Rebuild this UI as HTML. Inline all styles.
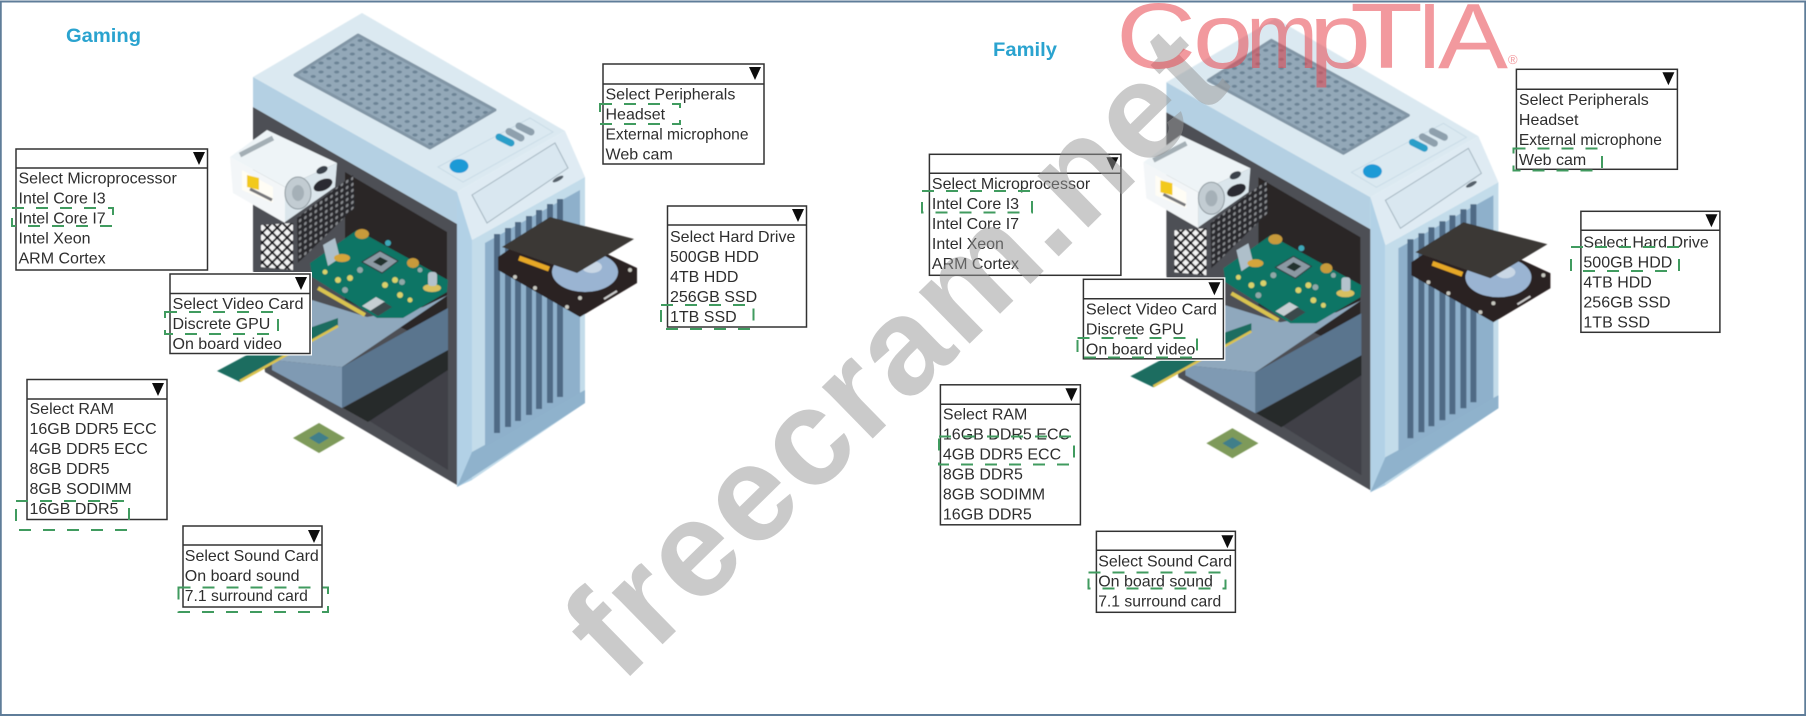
<!DOCTYPE html>
<html><head><meta charset="utf-8"><style>
html,body{margin:0;padding:0;background:#fff;width:1806px;height:717px;overflow:hidden}
svg{display:block}
.t{font:16px "Liberation Sans",sans-serif;fill:#2e2e2e}
.b{fill:#fff;stroke:#333;stroke-width:1.5}
.l{stroke:#333;stroke-width:1.5}
.d{fill:none;stroke:#3f9b5f;stroke-width:2;stroke-dasharray:12 12}
.h{font:bold 19px "Liberation Sans",sans-serif;fill:#2ba3cf}
.c{font-family:"Liberation Sans",sans-serif;font-size:93px;fill:#e8474f}
</style></head><body>
<svg width="1806" height="717" viewBox="0 0 1806 717" xmlns="http://www.w3.org/2000/svg">
<defs>
<filter id="bl" x="-5%" y="-5%" width="110%" height="110%"><feGaussianBlur stdDeviation="0.6"/></filter>
<filter id="tb" x="-5%" y="-5%" width="110%" height="110%"><feGaussianBlur stdDeviation="0.3"/></filter>
<pattern id="dots" width="9" height="9" patternUnits="userSpaceOnUse" patternTransform="matrix(.87 .5 -.87 .5 0 0)"><rect width="9" height="9" fill="#93a8b8"/><circle cx="4.5" cy="4.5" r="2.1" fill="#6c8395"/></pattern>
<pattern id="perf" width="6" height="6" patternUnits="userSpaceOnUse" patternTransform="matrix(.87 -.5 0 1 0 0)"><rect width="6" height="6" fill="#2b2b2e"/><circle cx="3" cy="3" r="1.6" fill="#85878b"/></pattern>
<pattern id="chk" width="7" height="7" patternUnits="userSpaceOnUse" patternTransform="rotate(45)"><rect width="7" height="7" fill="#17171a"/><rect width="5" height="5" x="1" y="1" fill="#f3f3f3"/></pattern>
<g id="pc" filter="url(#bl)">
<polygon points="253,77 362,13 565,131 457,192" fill="#dbe9f1"/>
<polygon points="295,75 358,35 495,110 430,148" fill="url(#dots)" stroke="#8296a6" stroke-width="3" stroke-linejoin="round"/>
<polygon points="438,167 530,118 553,132 463,182" fill="none" stroke="#c9dbe6"/>
<polygon points="253,77 457,192 457,224 253,107" fill="#b4d0e3"/>
<polygon points="253,107 457,224 457,485 265,372 253,270" fill="#4d4f55"/>
<polygon points="345,172 447,232 447,350 345,300" fill="#2a2728"/>
<polygon points="297,218 353,175 355,207 298,263" fill="url(#perf)"/>
<polygon points="261,225 293,223 293,270 261,267" fill="url(#chk)"/>
<polygon points="368,420 448,368 448,470" fill="#3f4147"/>
<polygon points="343,408 448,350 448,370 368,422" fill="#28292c"/>
<polygon points="312,300 367,317 423,307 448,295 342,367 272,360" fill="#8fa8bd"/>
<polygon points="272,360 342,367 342,408 272,370" fill="#7f9ab3"/>
<polygon points="342,367 448,308 448,350 342,408" fill="#5a748e"/>
<polygon points="310,263 357,230 448,280 447,292 403,318 377,318 312,277" fill="#0f7465"/>
<line x1="318" y1="288" x2="365" y2="315" stroke="#d9c350" stroke-width="4"/>
<polygon points="380,251 398,261 382,273 362,262" fill="#8b99a3" stroke="#2b3a3d"/>
<polygon points="380,257 388,261 381,266 373,262" fill="#24302f"/>
<polygon points="376,297 385,302 371,311 362,306" fill="#c6ced2"/>
<polygon points="384,302 392,307 378,316 370,311" fill="#3a4a4c"/>
<polygon points="323,245 335,238 340,258 328,266" fill="#aebfca"/>
<ellipse cx="342" cy="258" rx="8" ry="4" fill="#d5a53a"/>
<ellipse cx="362" cy="234" rx="7" ry="5" fill="#c79a3a"/><ellipse cx="413" cy="263" rx="6" ry="5" fill="#c79a3a"/>
<ellipse cx="432" cy="288" rx="9" ry="4" fill="#d8c060"/><rect x="428" y="272" width="9" height="14" rx="3" fill="#b4c2cc"/>
<g fill="#d8d26a"><circle cx="385" cy="285" r="3"/><circle cx="350" cy="278" r="3"/><circle cx="400" cy="295" r="3"/><circle cx="338" cy="280" r="3"/><circle cx="410" cy="300" r="2.5"/><circle cx="325" cy="272" r="2.5"/><circle cx="395" cy="280" r="3"/></g>
<g fill="#8fa8a8"><circle cx="420" cy="270" r="2.5"/><circle cx="360" cy="270" r="3"/><circle cx="345" cy="290" r="3"/><circle cx="402" cy="282" r="3"/></g>
<circle cx="388" cy="243" r="3" fill="#3da8b8"/>
<polygon points="217,371 275,340 338,318 338,326 240,382" fill="#1b6d60"/>
<line x1="240" y1="381" x2="338" y2="326" stroke="#d9c350" stroke-width="2.5"/>
<polygon points="230,157 267,130 337,163 285,187" fill="#eef4f7"/>
<polygon points="230,157 285,187 285,223 233,193" fill="#f3f6f8"/>
<polygon points="285,187 337,163 335,187 285,222" fill="#dbe6ec"/>
<line x1="240" y1="155" x2="273" y2="138" stroke="#a4afb5" stroke-width="5"/>
<polygon points="242,170 273,187 273,203 242,190" fill="#fffdf5"/>
<polygon points="247,175 259,178 259,190 247,187" fill="#f2c91e"/>
<line x1="250" y1="189" x2="272" y2="200" stroke="#77777a" stroke-width="3"/>
<ellipse cx="298" cy="193" rx="13" ry="16" fill="#c2ccd2" stroke="#8d989e"/>
<ellipse cx="298" cy="193" rx="6" ry="8" fill="#a5b0b7"/>
<ellipse cx="323" cy="185" rx="10" ry="5.5" fill="#2a2c30" transform="rotate(-25 323 185)"/>
<ellipse cx="322" cy="170" rx="6" ry="3.5" fill="#3b434c" transform="rotate(-25 322 170)"/>
<polygon points="457,192 565,131 585,177 472,240" fill="#dfebf3"/>
<polygon points="472,195 555,143 568,168 487,223" fill="#d9e7f0" stroke="#a3b4bf"/>
<ellipse cx="558" cy="179" rx="6" ry="2" fill="#55606a" transform="rotate(-28 558 179)"/>
<polygon points="457,192 472,240 472,480 457,487" fill="#b2d1e6"/>
<polygon points="472,240 585,177 585,403 472,480" fill="#c3dcea"/>
<polygon points="472,452 585,390 585,403 457,487" fill="#8fb2cc"/>
<polygon points="485,243 580,190 580,393 485,447" fill="#8eb0cb"/>
<g stroke="#4f6a85" stroke-width="6">
<line x1="497" y1="234" x2="497" y2="433"/><line x1="508" y1="228" x2="508" y2="427"/><line x1="518" y1="222" x2="518" y2="421"/><line x1="529" y1="216" x2="529" y2="415"/><line x1="539" y1="210" x2="539" y2="409"/><line x1="550" y1="204" x2="550" y2="403"/><line x1="560" y1="199" x2="560" y2="397"/>
</g>
<ellipse cx="459" cy="166" rx="9.5" ry="7" fill="#1f9ad6"/>
<line x1="499" y1="137" x2="511" y2="143" stroke="#2a9fc9" stroke-width="7" stroke-linecap="round"/>
<line x1="509" y1="131.5" x2="521" y2="138" stroke="#8ea0ad" stroke-width="7" stroke-linecap="round"/>
<line x1="519" y1="126" x2="531" y2="132" stroke="#8ea0ad" stroke-width="7" stroke-linecap="round"/>
<polygon points="498,257 545,225 637,268 637,283 580,317 498,270" fill="#2a2220"/>
<ellipse cx="585" cy="272" rx="33" ry="20" fill="#9ab4d2"/>
<ellipse cx="592" cy="267" rx="10" ry="6" fill="#c9d7e5"/>
<polygon points="502,247 550,217 634,239 577,273" fill="#3b3735"/>
<line x1="519" y1="258" x2="549" y2="269" stroke="#e6a828" stroke-width="5"/>
<g fill="#c8c8c0"><circle cx="515" cy="277" r="2"/><circle cx="535" cy="288" r="2"/><circle cx="567" cy="307" r="2"/><circle cx="580" cy="298" r="2"/><circle cx="630" cy="270" r="2"/></g>
<line x1="604" y1="299" x2="617" y2="291" stroke="#ccc" stroke-width="2"/>
<polygon points="293,438 319,423 345,438 319,453" fill="#7e9a5a"/>
<polygon points="309,438 319,432 329,438 319,444" fill="#3f7f8a"/>
</g>
</defs>
<rect x="0" y="0" width="1806" height="717" fill="#fff"/>
<use href="#pc"/>
<use href="#pc" transform="translate(913.4,5.3)"/>

<g filter="url(#tb)">
<text class="h" x="66" y="42" textLength="75" lengthAdjust="spacingAndGlyphs">Gaming</text>
<text class="h" x="993" y="56" textLength="64" lengthAdjust="spacingAndGlyphs">Family</text>

<!-- Gaming boxes -->
<rect class="b" x="16" y="149" width="191.5" height="121"/><line class="l" x1="16" y1="168" x2="207.5" y2="168"/><polygon points="193,152 205,152 199,165" fill="#111"/>
<text class="t" x="18.5" y="183.5">Select Microprocessor</text><text class="t" x="18.5" y="203.5">Intel Core I3</text><text class="t" x="18.5" y="223.5">Intel Core I7</text><text class="t" x="18.5" y="243.5">Intel Xeon</text><text class="t" x="18.5" y="263.5">ARM Cortex</text>

<rect class="b" x="603" y="64" width="161" height="100"/><line class="l" x1="603" y1="84" x2="764" y2="84"/><polygon points="749,67 761,67 755,80" fill="#111"/>
<text class="t" x="605.5" y="99.5">Select Peripherals</text><text class="t" x="605.5" y="119.5">Headset</text><text class="t" x="605.5" y="139.5" textLength="143" lengthAdjust="spacingAndGlyphs">External microphone</text><text class="t" x="605.5" y="159.5">Web cam</text>

<rect class="b" x="667.5" y="206" width="139" height="121"/><line class="l" x1="667.5" y1="225" x2="806.5" y2="225"/><polygon points="792,209 804,209 798,222" fill="#111"/>
<text class="t" x="670" y="242">Select Hard Drive</text><text class="t" x="670" y="262">500GB HDD</text><text class="t" x="670" y="282">4TB HDD</text><text class="t" x="670" y="302">256GB SSD</text><text class="t" x="670" y="322">1TB SSD</text>

<rect x="168" y="272" width="144" height="83.5" fill="#fff"/>
<rect class="b" x="170" y="274" width="140" height="79.5"/><line class="l" x1="170" y1="293.5" x2="310" y2="293.5"/><polygon points="295,277 307,277 301,290" fill="#111"/>
<text class="t" x="172.5" y="309" textLength="131" lengthAdjust="spacingAndGlyphs">Select Video Card</text><text class="t" x="172.5" y="329">Discrete GPU</text><text class="t" x="172.5" y="349">On board video</text>

<rect class="b" x="27" y="379.5" width="140" height="140"/><line class="l" x1="27" y1="399" x2="167" y2="399"/><polygon points="152,383 164,383 158,396" fill="#111"/>
<text class="t" x="29.5" y="414">Select RAM</text><text class="t" x="29.5" y="434">16GB DDR5 ECC</text><text class="t" x="29.5" y="454">4GB DDR5 ECC</text><text class="t" x="29.5" y="474">8GB DDR5</text><text class="t" x="29.5" y="494">8GB SODIMM</text><text class="t" x="29.5" y="514">16GB DDR5</text>

<rect class="b" x="183" y="526" width="139" height="81"/><line class="l" x1="183" y1="545" x2="322" y2="545"/><polygon points="308,530 320,530 314,543" fill="#111"/>
<text class="t" x="184.8" y="561" textLength="134" lengthAdjust="spacingAndGlyphs">Select Sound Card</text><text class="t" x="184.8" y="581">On board sound</text><text class="t" x="184.8" y="601" textLength="123" lengthAdjust="spacingAndGlyphs">7.1 surround card</text>

<!-- Family boxes -->
<g transform="translate(913.4,5.3)">
<rect class="b" x="16" y="149" width="191.5" height="121"/><line class="l" x1="16" y1="168" x2="207.5" y2="168"/><polygon points="193,152 205,152 199,165" fill="#111"/>
<text class="t" x="18.5" y="183.5">Select Microprocessor</text><text class="t" x="18.5" y="203.5">Intel Core I3</text><text class="t" x="18.5" y="223.5">Intel Core I7</text><text class="t" x="18.5" y="243.5">Intel Xeon</text><text class="t" x="18.5" y="263.5">ARM Cortex</text>

<rect class="b" x="603" y="64" width="161" height="100"/><line class="l" x1="603" y1="84" x2="764" y2="84"/><polygon points="749,67 761,67 755,80" fill="#111"/>
<text class="t" x="605.5" y="99.5">Select Peripherals</text><text class="t" x="605.5" y="119.5">Headset</text><text class="t" x="605.5" y="139.5" textLength="143" lengthAdjust="spacingAndGlyphs">External microphone</text><text class="t" x="605.5" y="159.5">Web cam</text>

<rect class="b" x="667.5" y="206" width="139" height="121"/><line class="l" x1="667.5" y1="225" x2="806.5" y2="225"/><polygon points="792,209 804,209 798,222" fill="#111"/>
<text class="t" x="670" y="242">Select Hard Drive</text><text class="t" x="670" y="262">500GB HDD</text><text class="t" x="670" y="282">4TB HDD</text><text class="t" x="670" y="302">256GB SSD</text><text class="t" x="670" y="322">1TB SSD</text>

<rect x="168" y="272" width="144" height="83.5" fill="#fff"/>
<rect class="b" x="170" y="274" width="140" height="79.5"/><line class="l" x1="170" y1="293.5" x2="310" y2="293.5"/><polygon points="295,277 307,277 301,290" fill="#111"/>
<text class="t" x="172.5" y="309" textLength="131" lengthAdjust="spacingAndGlyphs">Select Video Card</text><text class="t" x="172.5" y="329">Discrete GPU</text><text class="t" x="172.5" y="349">On board video</text>

<rect class="b" x="27" y="379.5" width="140" height="140"/><line class="l" x1="27" y1="399" x2="167" y2="399"/><polygon points="152,383 164,383 158,396" fill="#111"/>
<text class="t" x="29.5" y="414">Select RAM</text><text class="t" x="29.5" y="434">16GB DDR5 ECC</text><text class="t" x="29.5" y="454">4GB DDR5 ECC</text><text class="t" x="29.5" y="474">8GB DDR5</text><text class="t" x="29.5" y="494">8GB SODIMM</text><text class="t" x="29.5" y="514">16GB DDR5</text>

<rect class="b" x="183" y="526" width="139" height="81"/><line class="l" x1="183" y1="545" x2="322" y2="545"/><polygon points="308,530 320,530 314,543" fill="#111"/>
<text class="t" x="184.8" y="561" textLength="134" lengthAdjust="spacingAndGlyphs">Select Sound Card</text><text class="t" x="184.8" y="581">On board sound</text><text class="t" x="184.8" y="601" textLength="123" lengthAdjust="spacingAndGlyphs">7.1 surround card</text>
</g>

<!-- dashed answers -->
<rect class="d" x="12" y="208" width="101" height="18"/>
<rect class="d" x="600" y="104" width="80" height="20"/>
<rect class="d" x="661" y="305" width="92.5" height="24"/>
<rect class="d" x="165" y="312" width="113" height="22"/>
<rect class="d" x="16" y="501" width="113" height="29"/>
<rect class="d" x="178.5" y="587.5" width="149.5" height="24.5"/>
<rect class="d" x="922" y="191" width="110" height="21.5"/>
<rect class="d" x="1513.5" y="148.5" width="88.5" height="22"/>
<rect class="d" x="1571" y="247" width="108" height="24"/>
<rect class="d" x="1077.5" y="338" width="119.5" height="19.5"/>
<rect class="d" x="939" y="436.5" width="135" height="28"/>
<rect class="d" x="1088.5" y="572.5" width="137" height="16"/>
</g>

<!-- watermarks -->
<text transform="translate(621,685) rotate(-44.4)" font-family="Liberation Sans, sans-serif" font-weight="bold" font-size="137" fill="#959595" fill-opacity=".5" textLength="856" lengthAdjust="spacing">freecram.net</text>
<g opacity=".55" filter="url(#tb)">
<text class="c" x="1116" y="68" textLength="80" lengthAdjust="spacingAndGlyphs">C</text>
<text class="c" x="1193" y="68" textLength="60" lengthAdjust="spacingAndGlyphs">o</text>
<text class="c" x="1246" y="68" textLength="72" lengthAdjust="spacingAndGlyphs">m</text>
<text class="c" x="1309" y="68" textLength="62" lengthAdjust="spacingAndGlyphs">p</text>
<text class="c" x="1350" y="68" textLength="73" lengthAdjust="spacingAndGlyphs">T</text>
<text class="c" x="1416.5" y="68" textLength="26" lengthAdjust="spacingAndGlyphs">I</text>
<text class="c" x="1438" y="68" textLength="70" lengthAdjust="spacingAndGlyphs">A</text>
<text x="1508" y="64" font-family="Liberation Sans, sans-serif" font-size="13" fill="#e8474f">®</text>
</g>

<rect x="0.75" y="1.5" width="1804.5" height="713.5" fill="none" stroke="#5f7d99" stroke-width="2"/>
</svg>
</body></html>
